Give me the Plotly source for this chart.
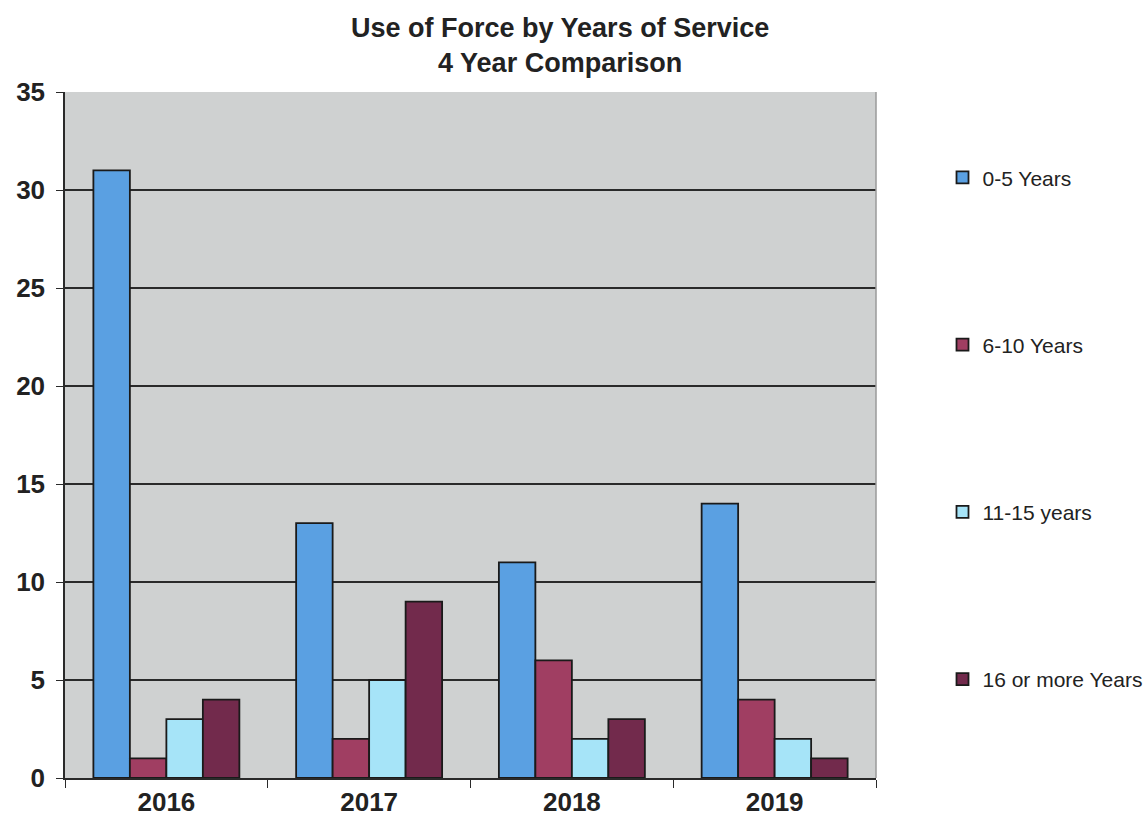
import plotly.graph_objects as go

years = ["2016", "2017", "2018", "2019"]
series_names = ["0-5 Years", "6-10 Years", "11-15 years", "16 or more Years"]
v_0_5 = [31, 13, 11, 14]
v_6_10 = [1, 2, 6, 4]
v_11_15 = [3, 5, 2, 2]
v_16_plus = [4, 9, 3, 1]
colors = ["#5aa0e2", "#a03e62", "#a6e4f8", "#722a4c"]

fig = go.Figure()
for name, vals, col in zip(series_names, [v_0_5, v_6_10, v_11_15, v_16_plus], colors):
    fig.add_trace(go.Bar(
        x=years, y=vals, name=name, legendgroup=name,
        marker=dict(color=col, line=dict(color="#1a1a1a", width=1.8)),
    ))

fig.update_layout(
    width=1148, height=821,
    barmode="group", bargap=0.28, bargroupgap=0,
    paper_bgcolor="white", plot_bgcolor="#cfd1d1",
    margin=dict(l=65, r=272, t=92, b=43, autoexpand=False),
    font=dict(family="Liberation Sans, Arial", color="#222"),
    legend=dict(
        x=1.082, xanchor="left", y=0.905, yanchor="top",
        font=dict(size=21, color="#222"),
        tracegroupgap=137, bgcolor="rgba(0,0,0,0)",
        itemclick=False, itemwidth=30,
    ),
    showlegend=True,
    annotations=[dict(
        text="<b>Use of Force by Years of Service<br>4 Year Comparison</b>",
        xref="paper", yref="paper", x=0.61, y=1.068, xanchor="center", yanchor="middle",
        showarrow=False, font=dict(family="Liberation Sans, Arial", size=27, color="#222"),
    )],
)
fig.update_yaxes(
    range=[0, 35], dtick=5, showgrid=True, gridcolor="#2a2a2a", gridwidth=1.5,
    showline=True, linecolor="#2a2a2a", linewidth=1.5,
    ticks="outside", ticklen=7, tickcolor="#2a2a2a",
    tickfont=dict(size=26, color="#222", family="Liberation Sans, Arial", weight="bold"),
    zeroline=False, mirror=False, ticklabelstandoff=6,
)
fig.update_xaxes(
    showline=True, linecolor="#2a2a2a", linewidth=1.5,
    ticks="outside", tickson="boundaries", ticklen=8, tickcolor="#2a2a2a",
    tickfont=dict(size=26, color="#222", family="Liberation Sans, Arial", weight="bold"),
    showgrid=False,
)
fig.add_shape(type="line", xref="paper", yref="paper", x0=1, x1=1, y0=0, y1=1,
              line=dict(color="#9a9a9a", width=1.5))

fig.write_html("out.html")
